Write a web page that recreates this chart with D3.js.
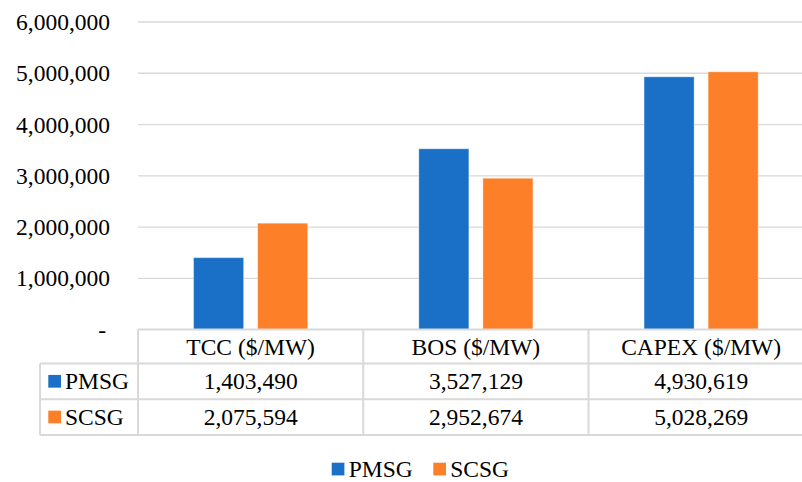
<!DOCTYPE html>
<html>
<head>
<meta charset="utf-8">
<script src="https://cdn.jsdelivr.net/npm/d3@7"></script>
<style>
  html, body { margin: 0; padding: 0; background: #fff; }
  svg { display: block; }
</style>
</head>
<body>
<svg id="chart" width="802" height="482"></svg>
<script>
const categories = ["TCC ($/MW)", "BOS ($/MW)", "CAPEX ($/MW)"];
const seriesNames = ["PMSG", "SCSG"];
const pmsgValues = [1403490, 3527129, 4930619];
const scsgValues = [2075594, 2952674, 5028269];
const yTicks = [0, 1000000, 2000000, 3000000, 4000000, 5000000, 6000000];
const seriesColors = ["#1a70c6", "#fd7f27"];

const series = [pmsgValues, scsgValues];

const FONT = "'Liberation Serif'";
const svg = d3.select("#chart");
const W = 802;
const plot = { left: 138, top: 22, bottom: 329.6, width: 675.75 };
const fontSize = 23.5;
const gridColor = "#d9d9d9";

const y = d3.scaleLinear().domain([0, 6000000]).range([plot.bottom, plot.top]);
const x = d3.scaleBand().domain(categories).range([plot.left, plot.left + plot.width]);
// two bars per category, centred in the band and filling about half of it
const groupHalf = x.bandwidth() * 0.2533;
const inner = d3.scaleBand().domain(seriesNames)
  .range([x.bandwidth() / 2 - groupHalf, x.bandwidth() / 2 + groupHalf])
  .paddingInner(0.21875).paddingOuter(0);

const fmt = d3.format(",");
const styleText = sel => sel.style("font-family", FONT).style("font-size", fontSize + "px").attr("fill", "#000");

// horizontal gridlines
svg.append("g").selectAll("line")
  .data(yTicks.filter(d => d > 0))
  .join("line")
  .attr("x1", plot.left).attr("x2", W)
  .attr("y1", d => y(d)).attr("y2", d => y(d))
  .attr("stroke", gridColor).attr("stroke-width", 1.3);

// y axis labels
const yAxis = d3.axisLeft(y).tickValues(yTicks)
  .tickFormat(d => d === 0 ? "-" : fmt(d)).tickSize(0).tickPadding(0);
const yg = svg.append("g").attr("transform", "translate(110,0)").call(yAxis);
yg.attr("font-family", null).attr("font-size", null);
yg.select(".domain").remove();
yg.selectAll("text").call(styleText);
yg.selectAll(".tick").filter(d => d === 0).select("text").attr("dx", -4);

// bars
svg.append("g").selectAll("g")
  .data(series)
  .join("g")
  .attr("fill", (d, i) => seriesColors[i])
  .selectAll("rect")
  .data((vals, i) => vals.map((v, j) => ({ v, cat: categories[j], s: seriesNames[i] })))
  .join("rect")
  .attr("x", d => x(d.cat) + inner(d.s))
  .attr("width", inner.bandwidth())
  .attr("y", d => y(d.v))
  .attr("height", d => y(0) - y(d.v))
  .attr("stroke", "rgba(255,255,255,0.35)").attr("stroke-width", 1);

// data table
const rowTop = plot.bottom;
const rowH = [34, 35.7, 35.7];
const rowY = [rowTop, rowTop + rowH[0], rowTop + rowH[0] + rowH[1], rowTop + rowH[0] + rowH[1] + rowH[2]];
const keyLeft = 40;
const table = svg.append("g");
const lineAttr = sel => sel.attr("stroke", gridColor).attr("stroke-width", 2);

// horizontal table lines
table.append("line").attr("x1", plot.left).attr("x2", W).attr("y1", rowY[0]).attr("y2", rowY[0]).call(lineAttr);
[1, 2, 3].forEach(i => {
  table.append("line").attr("x1", keyLeft).attr("x2", W).attr("y1", rowY[i]).attr("y2", rowY[i]).call(lineAttr);
});
// vertical table lines
table.append("line").attr("x1", keyLeft).attr("x2", keyLeft).attr("y1", rowY[1]).attr("y2", rowY[3]).call(lineAttr);
categories.forEach(c => {
  table.append("line").attr("x1", x(c)).attr("x2", x(c)).attr("y1", rowY[0]).attr("y2", rowY[3]).call(lineAttr);
});

// header texts
table.selectAll("text.hdr")
  .data(categories)
  .join("text").attr("class", "hdr")
  .attr("x", d => x(d) + x.bandwidth() / 2)
  .attr("y", (rowY[0] + rowY[1]) / 2)
  .attr("text-anchor", "middle").attr("dominant-baseline", "central")
  .call(styleText)
  .text(d => d);

// value rows
series.forEach((vals, i) => {
  const cy = (rowY[i + 1] + rowY[i + 2]) / 2;
  table.append("rect")
    .attr("x", 48.3).attr("y", cy - 6.5).attr("width", 12.7).attr("height", 12.7)
    .attr("fill", seriesColors[i]);
  table.append("text")
    .attr("x", 65).attr("y", cy)
    .attr("dominant-baseline", "central")
    .call(styleText)
    .text(seriesNames[i]);
  table.selectAll("text.v" + i)
    .data(vals)
    .join("text").attr("class", "v" + i)
    .attr("x", (d, j) => x(categories[j]) + x.bandwidth() / 2)
    .attr("y", cy)
    .attr("text-anchor", "middle").attr("dominant-baseline", "central")
    .call(styleText)
    .text(d => fmt(d));
});

// legend
const legendItems = [{ name: seriesNames[0], x: 331.7 }, { name: seriesNames[1], x: 433.3 }];
const lg = svg.append("g");
legendItems.forEach((d, i) => {
  lg.append("rect").attr("x", d.x).attr("y", 462.7).attr("width", 12.7).attr("height", 12.7)
    .attr("fill", seriesColors[i]);
  lg.append("text").attr("x", d.x + 17).attr("y", 469)
    .attr("dominant-baseline", "central")
    .call(styleText)
    .text(d.name);
});
</script>
</body>
</html>
